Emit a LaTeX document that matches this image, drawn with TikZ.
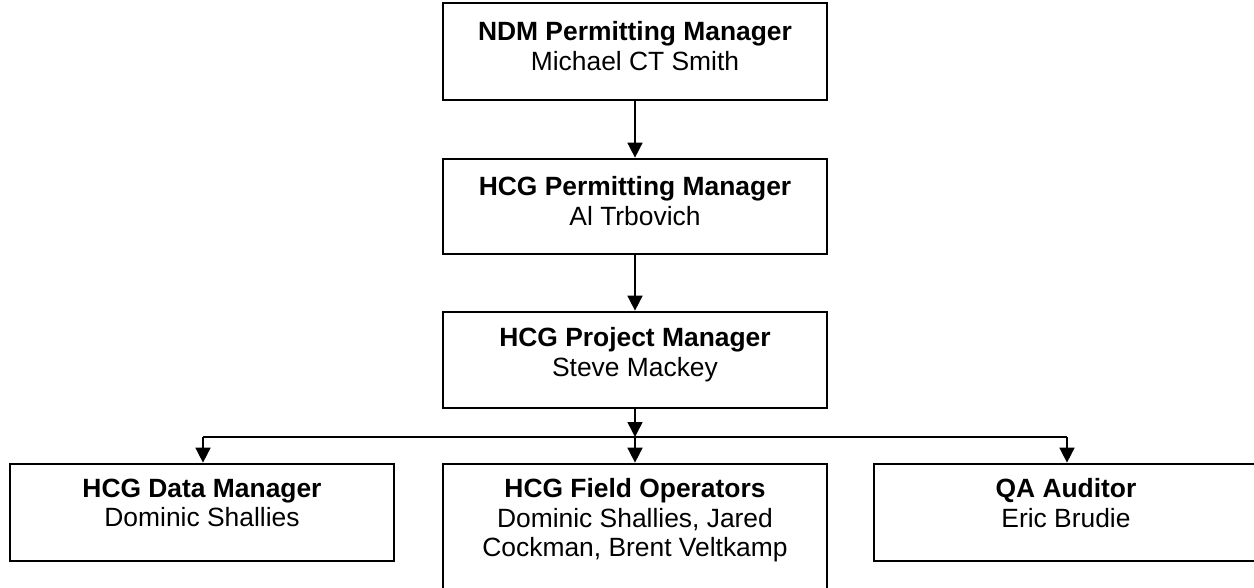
\documentclass[tikz,border=0pt]{standalone}
\usepackage{fontspec}
\setmainfont{Liberation Sans}
\usetikzlibrary{arrows.meta}

\begin{document}
\begin{tikzpicture}[x=1pt,y=-1pt,
  box/.style={draw=black, line width=2.7pt, rectangle, minimum width=384pt,
              inner sep=0pt, fill=none},
  lbl/.style={anchor=north, align=center, inner sep=0pt,
              font=\fontsize{26.4}{29.5}\selectfont},
  link/.style={draw=black, line width=1.6pt},
  arr/.style={link, -{Triangle[length=15pt,width=15pt]}}
]
\useasboundingbox (0,0) rectangle (1254,588);
\clip (0,0) rectangle (1254,588);

% chain of managers
\node[box, minimum height=97pt] (b1) at (635,51.5) {};
\node[box, minimum height=95pt] (b2) at (635,206.5) {};
\node[box, minimum height=96pt] (b3) at (635,360) {};

% team level
\node[box, minimum height=97pt] (bl) at (202,512.5) {};
\node[box, minimum height=132pt] (bm) at (635,530) {};
\node[box, minimum height=97pt] (br) at (1066,512.5) {};

% box texts, hung from the top edge of each box
\node[lbl] (t1) at ([yshift=-20pt]b1.north) {\textbf{NDM Permitting Manager}\\Michael CT Smith};
\node[lbl] (t2) at ([yshift=-19pt]b2.north) {\textbf{HCG Permitting Manager}\\Al Trbovich};
\node[lbl] (t3) at ([yshift=-17pt]b3.north) {\textbf{HCG Project Manager}\\Steve Mackey};
\node[lbl] (tl) at ([yshift=-16pt]bl.north) {\textbf{HCG Data Manager}\\Dominic Shallies};
\node[lbl] (tm) at ([yshift=-16pt]bm.north) {\textbf{HCG Field Operators}\\Dominic Shallies, Jared\\Cockman, Brent Veltkamp};
\node[lbl] (tr) at ([yshift=-16pt]br.north) {\textbf{QA Auditor}\\Eric Brudie};

% branching line
\coordinate (j)  at (635,437);
\coordinate (jl) at (203,437);
\coordinate (jr) at (1067,437);

% connectors
\draw[arr] (b1.south) -- (b2.north);
\draw[arr] (b2.south) -- (b3.north);
\draw[arr] (b3.south) -- (j);
\draw[link] (jl) -- (jr);
\draw[arr] (jl) -- (jl |- bl.north);
\draw[arr] (j) -- (bm.north);
\draw[arr] (jr) -- (jr |- br.north);
\end{tikzpicture}
\end{document}
